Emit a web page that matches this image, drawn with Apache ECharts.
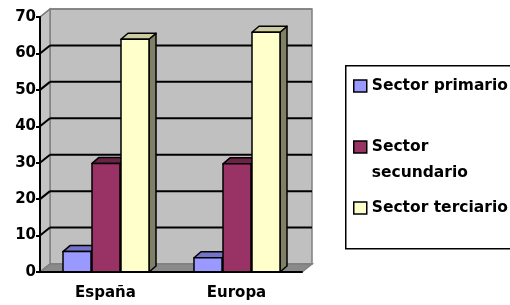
<!DOCTYPE html>
<html>
<head>
<meta charset="utf-8">
<script src="https://cdn.jsdelivr.net/npm/echarts@6/dist/echarts.min.js"></script>
<style>
  html, body { margin: 0; padding: 0; background: #fff; }
  #chart { width: 510px; height: 305px; }
</style>
</head>
<body>
<div id="chart"></div>
<script>
const categories = ['España', 'Europa'];
const seriesNames = ['Sector primario', 'Sector secundario', 'Sector terciario'];
const primario = [5.6, 3.9];
const secundario = [29.8, 29.7];
const terciario = [63.9, 65.8];
const yTicks = [0, 10, 20, 30, 40, 50, 60, 70];

const FRONT = ['#9999ff', '#993366', '#ffffcc'];
const TOP = ['#7373c8', '#6b2447', '#cccca0'];
const SIDE = ['#4d4d80', '#4d1a33', '#808066'];
const FONT = 'DejaVu Sans';

// depth offsets (px) for the walls and for the bars
const WDX = 10, WDY = -8;
const BDX = 7, BDY = -6;
const BAR_W = 28;
const BAR_OFF = [-28.5, 0.5, 29.5];

const chart = echarts.init(document.getElementById('chart'));

function edges(api) {
  const bw = api.size([1, 0])[0];
  const xl = api.coord([0, 0])[0] - bw / 2;
  const xr = api.coord([categories.length - 1, 0])[0] + bw / 2;
  const y0 = api.coord([0, 0])[1];
  const yt = api.coord([0, yTicks[yTicks.length - 1]])[1];
  return { xl, xr, y0, yt };
}

function wallsItem(params, api) {
  const e = edges(api);
  const edge = { stroke: '#808080', lineWidth: 1.5 };
  return {
    type: 'group',
    children: [
      { type: 'rect', shape: { x: e.xl + WDX, y: e.yt + WDY, width: e.xr - e.xl, height: e.y0 - e.yt },
        style: Object.assign({ fill: '#c0c0c0' }, edge) },
      { type: 'polygon', shape: { points: [[e.xl, e.yt], [e.xl + WDX, e.yt + WDY], [e.xl + WDX, e.y0 + WDY], [e.xl, e.y0]] },
        style: Object.assign({ fill: '#c4c4c4' }, edge) },
      { type: 'polygon', shape: { points: [[e.xl, e.y0], [e.xr, e.y0], [e.xr + WDX, e.y0 + WDY], [e.xl + WDX, e.y0 + WDY]] },
        style: Object.assign({ fill: '#8a8a8a' }, edge) }
    ]
  };
}

function gridItem(params, api) {
  const e = edges(api);
  const v = api.value(1);
  const y = api.coord([0, v])[1];
  const inner = v > yTicks[0] && v < yTicks[yTicks.length - 1];
  const st = { stroke: inner ? '#000' : '#808080', lineWidth: inner ? 2 : 1.5 };
  return {
    type: 'group',
    children: [
      { type: 'line', shape: { x1: e.xl, y1: y, x2: e.xl + WDX, y2: y + WDY }, style: st },
      { type: 'line', shape: { x1: e.xl + WDX, y1: y + WDY, x2: e.xr + WDX, y2: y + WDY }, style: st }
    ]
  };
}

function barItem(i) {
  return function (params, api) {
    const cat = api.value(0), val = api.value(1);
    const top = api.coord([cat, val]);
    const base = api.coord([cat, 0]);
    const cx = top[0] + BAR_OFF[i];
    const x0 = cx - BAR_W / 2, x1 = cx + BAR_W / 2;
    const yt = top[1], yb = base[1];
    const line = { stroke: '#000', lineWidth: 1.5, lineJoin: 'round' };
    return {
      type: 'group',
      children: [
        { type: 'polygon', shape: { points: [[x1, yt], [x1 + BDX, yt + BDY], [x1 + BDX, yb + BDY], [x1, yb]] },
          style: Object.assign({ fill: SIDE[i] }, line) },
        { type: 'polygon', shape: { points: [[x0, yt], [x1, yt], [x1 + BDX, yt + BDY], [x0 + BDX, yt + BDY]] },
          style: Object.assign({ fill: TOP[i] }, line) },
        { type: 'rect', shape: { x: x0, y: yt, width: BAR_W, height: yb - yt },
          style: Object.assign({ fill: FRONT[i] }, line) }
      ]
    };
  };
}

const values = [primario, secundario, terciario];

const legendText = { fontFamily: FONT, fontWeight: 'bold', fontSize: 15.5, color: '#000', lineHeight: 18 };
function legendFor(i, top, extra) {
  return {
    data: [{ name: seriesNames[i], itemStyle: { color: FRONT[i], borderColor: '#000', borderWidth: 1.5 } }],
    left: 353, top: top, padding: 0, icon: 'rect', itemWidth: 13, itemHeight: 12,
    selectedMode: false,
    textStyle: Object.assign({}, legendText, extra || {}),
    formatter: i === 1 ? function () { return '\nSector\nsecundario'; } : '{name}'
  };
}

const option = {
  animation: false,
  grid: { left: 40, right: 208, top: 17, bottom: 33 },
  xAxis: {
    type: 'category',
    data: categories,
    z: 10,
    axisLine: { lineStyle: { color: '#000', width: 2 } },
    axisTick: { length: 5, lineStyle: { color: '#000', width: 2 } },
    axisLabel: { margin: 14, fontFamily: FONT, fontWeight: 'bold', fontSize: 15, color: '#000' }
  },
  yAxis: {
    type: 'value',
    min: 0, max: 70, interval: 10,
    z: 10,
    axisLine: { show: true, lineStyle: { color: '#000', width: 2 } },
    axisTick: { show: true, length: 4, lineStyle: { color: '#000', width: 2 } },
    axisLabel: { margin: 4, fontFamily: FONT, fontWeight: 'bold', fontSize: 15, color: '#000' },
    splitLine: { show: false }
  },
  graphic: [{
    type: 'rect', left: 345, top: 65, z: -1,
    shape: { width: 220, height: 183 },
    style: { fill: '#fff', stroke: '#000', lineWidth: 1.5 }
  }],
  legend: [
    legendFor(0, 77),
    legendFor(1, 108, { lineHeight: 26 }),
    legendFor(2, 199)
  ],
  series: [
    { type: 'custom', name: 'walls', z: 1, silent: true, renderItem: wallsItem, data: [[0, 0]] },
    { type: 'custom', name: 'grid', z: 2, silent: true, renderItem: gridItem, data: yTicks.map(v => [0, v]) }
  ].concat(seriesNames.map((name, i) => ({
    type: 'custom',
    name: name,
    z: 3 + i,
    itemStyle: { color: FRONT[i] },
    renderItem: barItem(i),
    data: values[i].map((v, c) => [c, v])
  })))
};

chart.setOption(option);
</script>
</body>
</html>
